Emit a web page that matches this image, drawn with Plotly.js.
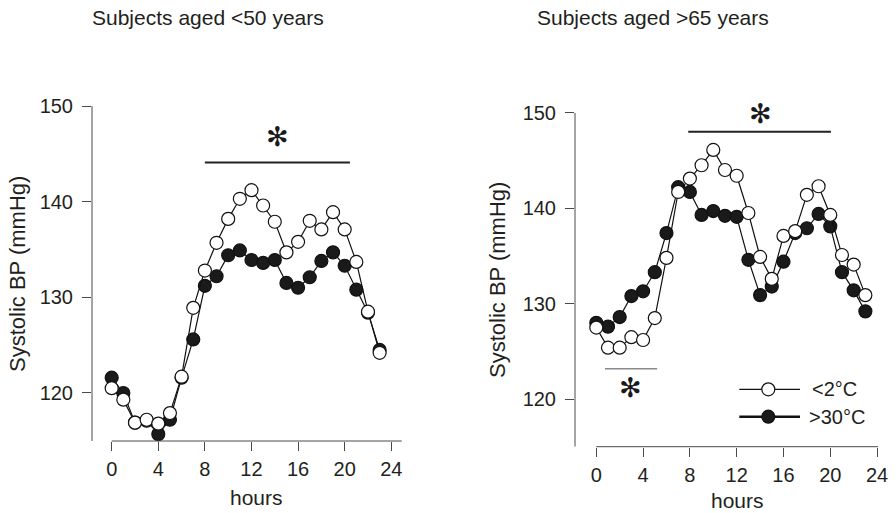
<!DOCTYPE html>
<html>
<head>
<meta charset="utf-8">
<script src="https://cdn.plot.ly/plotly-3.0.1.min.js"></script>
<style>
  html, body { margin: 0; padding: 0; background: #fff; }
  #chart { width: 896px; height: 513px; }
</style>
</head>
<body>
<div id="chart"></div>
<script>
// Hour of day (0-23)
const hours = [0, 1, 2, 3, 4, 5, 6, 7, 8, 9, 10, 11, 12, 13, 14, 15, 16, 17, 18, 19, 20, 21, 22, 23];
const hourTicks = [0, 4, 8, 12, 16, 20, 24];
const bpTicks = [120, 130, 140, 150];

// Subjects aged <50 years: mean systolic BP (mmHg)
const youngCold = [120.5, 119.3, 116.9, 117.2, 116.8, 117.9, 121.7, 128.9, 132.8, 135.7, 138.2, 140.3,
                   141.2, 139.6, 137.9, 134.7, 135.8, 138.0, 137.1, 138.9, 137.1, 133.7, 128.5, 124.2];
const youngHot  = [121.6, 120.0, 116.9, 117.1, 115.7, 117.2, 121.6, 125.6, 131.2, 132.2, 134.4, 134.9,
                   133.9, 133.6, 133.9, 131.5, 131.0, 132.1, 133.8, 134.7, 133.3, 130.8, 128.4, 124.5];

// Subjects aged >65 years: mean systolic BP (mmHg)
const oldCold = [127.5, 125.4, 125.4, 126.5, 126.2, 128.5, 134.8, 141.7, 143.1, 144.5, 146.1, 144.0,
                 143.4, 139.5, 134.9, 132.6, 137.1, 137.6, 141.4, 142.3, 139.3, 135.1, 134.1, 130.9];
const oldHot  = [128.0, 127.6, 128.6, 130.8, 131.3, 133.3, 137.4, 142.2, 141.7, 139.3, 139.7, 139.2,
                 139.1, 134.6, 130.9, 131.8, 134.4, 137.4, 137.9, 139.4, 138.1, 133.3, 131.4, 129.2];

// Significant intervals (hours)
const youngSigDay = [8, 20.45];
const oldSigDay = [7.86, 20.06];
const oldSigNight = [0.74, 5.2];

const seriesNames = ['<2°C', '>30°C'];
const panelTitles = ['Subjects aged <50 years', 'Subjects aged >65 years'];

const FONT = '"Liberation Sans", Arial, Helvetica, sans-serif';
const INK = '#231f20';
const AXIS = '#4a4a4a';

function series(x, y, xa, ya, filled) {
  return {
    type: 'scatter', mode: 'lines+markers', x: x, y: y, xaxis: xa, yaxis: ya,
    cliponaxis: false, showlegend: false, hoverinfo: 'skip',
    line: { color: '#111', width: 1.2 },
    marker: { symbol: 'circle', size: 13, color: filled ? '#1a1a1a' : '#ffffff',
              line: { color: '#111', width: 1.2 } }
  };
}

// hot series first so the open circles sit on top
const data = [
  series(hours, youngHot, 'x', 'y', true),
  series(hours, youngCold, 'x', 'y', false),
  series(hours, oldHot, 'x2', 'y2', true),
  series(hours, oldCold, 'x2', 'y2', false)
];

const yRange1 = [114.98, 150];
const yRange2 = [115.03, 150];

function xAxis(domain, range, anchor) {
  return {
    domain: domain, range: range, anchor: anchor, tickvals: hourTicks,
    ticks: 'outside', ticklen: 9, tickwidth: 1, tickcolor: AXIS,
    showline: false, showgrid: false, zeroline: false, fixedrange: true,
    tickfont: { family: FONT, size: 20, color: INK }, ticklabelstandoff: 1
  };
}
function yAxis(domain, range, anchor) {
  return {
    domain: domain, range: range, anchor: anchor, tickvals: bpTicks,
    ticks: 'outside', ticklen: 9, tickwidth: 1, tickcolor: AXIS,
    showline: false, showgrid: false, zeroline: false, fixedrange: true,
    tickfont: { family: FONT, size: 20, color: INK }, ticklabelstandoff: 5
  };
}

const shapes = [
  // axis lines
  { type: 'line', xref: 'x', yref: 'y domain', x0: 0, x1: 24.9, y0: 0, y1: 0, line: { color: AXIS, width: 1 } },
  { type: 'line', xref: 'x domain', yref: 'y', x0: 0, x1: 0, y0: yRange1[0], y1: 150, line: { color: AXIS, width: 1 } },
  { type: 'line', xref: 'x2', yref: 'y2 domain', x0: 0, x1: 24.1, y0: 0, y1: 0, line: { color: AXIS, width: 1 } },
  { type: 'line', xref: 'x2 domain', yref: 'y2', x0: 0, x1: 0, y0: yRange2[0], y1: 150, line: { color: AXIS, width: 1 } },
  // significance bars
  { type: 'line', xref: 'x', yref: 'y', x0: youngSigDay[0], x1: youngSigDay[1], y0: 144.1, y1: 144.1, line: { color: '#222', width: 2 } },
  { type: 'line', xref: 'x2', yref: 'y2', x0: oldSigDay[0], x1: oldSigDay[1], y0: 148.0, y1: 148.0, line: { color: '#222', width: 2 } },
  { type: 'line', xref: 'x2', yref: 'y2', x0: oldSigNight[0], x1: oldSigNight[1], y0: 123.2, y1: 123.2, line: { color: '#8a8a8a', width: 1.5 } },
  // legend samples
  { type: 'line', xref: 'paper', yref: 'paper', x0: 739.3 / 896, x1: 800 / 896, y0: (513 - 389.3) / 513, y1: (513 - 389.3) / 513, line: { color: '#111', width: 1.2 } },
  { type: 'line', xref: 'paper', yref: 'paper', x0: 739.3 / 896, x1: 800 / 896, y0: (513 - 416.7) / 513, y1: (513 - 416.7) / 513, line: { color: '#111', width: 2.6 } },
  { type: 'circle', xref: 'paper', yref: 'paper', x0: 761.8 / 896, x1: 774.8 / 896, y0: (513 - 395.8) / 513, y1: (513 - 382.8) / 513, fillcolor: '#fff', line: { color: '#111', width: 1.2 } },
  { type: 'circle', xref: 'paper', yref: 'paper', x0: 761.8 / 896, x1: 774.8 / 896, y0: (513 - 423.2) / 513, y1: (513 - 410.2) / 513, fillcolor: '#1a1a1a', line: { color: '#111', width: 1.2 } }
];

function note(text, x, y, opts) {
  return Object.assign({ text: text, x: x, y: y, xref: 'paper', yref: 'paper', showarrow: false,
    xanchor: 'center', yanchor: 'middle', font: { family: FONT, size: 21, color: INK } }, opts || {});
}
const starFont = { family: '"DejaVu Sans", sans-serif', size: 27, color: '#1a1a1a' };

const annotations = [
  note(panelTitles[0], 208.4 / 896, (513 - 17) / 513),
  note(panelTitles[1], 652.8 / 896, (513 - 17) / 513),
  note('Systolic BP (mmHg)', 17 / 896, (513 - 274) / 513, { textangle: -90, font: { family: FONT, size: 22, color: INK } }),
  note('Systolic BP (mmHg)', 497 / 896, (513 - 280) / 513, { textangle: -90, font: { family: FONT, size: 22, color: INK } }),
  note('hours', 256.7 / 896, (513 - 497) / 513),
  note('hours', 737.3 / 896, (513 - 500.5) / 513),
  note(seriesNames[0].replace('<', '&lt;'), 810 / 896, (513 - 389.3) / 513, { xanchor: 'left', font: { family: FONT, size: 20, color: INK } }),
  note(seriesNames[1].replace('>', '&gt;'), 806.7 / 896, (513 - 416.7) / 513, { xanchor: 'left', font: { family: FONT, size: 20, color: INK } }),
  // significance markers
  { text: '✻', xref: 'x', yref: 'y', x: 14.2, y: 146.8, showarrow: false, xanchor: 'center', yanchor: 'middle', font: starFont },
  { text: '✻', xref: 'x2', yref: 'y2', x: 14.0, y: 149.9, showarrow: false, xanchor: 'center', yanchor: 'middle', font: starFont },
  { text: '✻', xref: 'x2', yref: 'y2', x: 2.94, y: 121.25, showarrow: false, xanchor: 'center', yanchor: 'middle', font: starFont }
];

const layout = {
  width: 896, height: 513,
  margin: { l: 0, r: 0, t: 0, b: 0, pad: 0 },
  paper_bgcolor: '#ffffff', plot_bgcolor: '#ffffff',
  showlegend: false,
  font: { family: FONT, color: INK },
  xaxis: xAxis([92 / 896, 402 / 896], [-1.69, 24.92], 'y'),
  yaxis: yAxis([(513 - 441) / 513, (513 - 106) / 513], yRange1, 'x'),
  xaxis2: xAxis([575 / 896, 878 / 896], [-1.82, 24.08], 'y2'),
  yaxis2: yAxis([(513 - 446.7) / 513, (513 - 112.7) / 513], yRange2, 'x2'),
  shapes: shapes,
  annotations: annotations
};

Plotly.newPlot('chart', data, layout, { staticPlot: true, displayModeBar: false });
</script>
</body>
</html>
